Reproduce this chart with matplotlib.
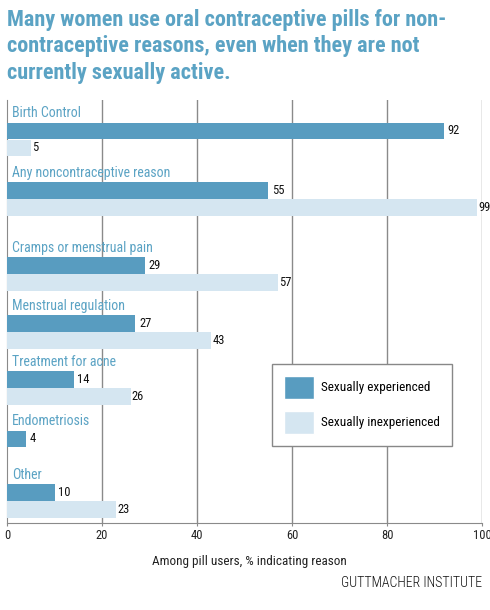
import matplotlib
matplotlib.use('Agg')
import matplotlib.pyplot as plt
import numpy as np
from matplotlib.patches import Patch

### DATA
categories = ['Birth Control', 'Any noncontraceptive reason', 'Cramps or menstrual pain',
              'Menstrual regulation', 'Treatment for acne', 'Endometriosis', 'Other']
experienced = [92, 55, 29, 27, 14, 4, 10]
inexperienced = [5, 99, 57, 43, 26, None, 23]
# slot of each category along the y axis (extra gap after the second group)
slots = [0, 1.03, 2.32, 3.32, 4.29, 5.31, 6.23]
x_ticks = [0, 20, 40, 60, 80, 100]

title = ('Many women use oral contraceptive pills for non-\n'
         'contraceptive reasons, even when they are not\n'
         'currently sexually active.')

### STYLE
dark_blue = '#589cc0'
light_blue = '#d5e6f1'
label_blue = '#5ba3c4'
grid_gray = '#8a8a8a'
narrow = ['Roboto Condensed', 'DejaVu Sans']

W, H = 490, 610
fig = plt.figure(figsize=(W / 100, H / 100), dpi=100)
ax_left, ax_right, ax_top, ax_bot = 7, 482, 100, 523
ax = fig.add_axes((ax_left / W, 1 - ax_bot / H, (ax_right - ax_left) / W, (ax_bot - ax_top) / H))

px = 58.0  # pixels per slot
bar_h = 16.5 / px
gap = 17.0 / px

for pos, name, v1, v2 in zip(slots, categories, experienced, inexperienced):
    y1 = pos + bar_h / 2
    ax.barh(y1, v1, height=bar_h, color=dark_blue, zorder=3)
    ax.text(v1 + 0.8, y1, str(v1), va='center', ha='left', fontsize=9,
            family=narrow, color='#111111', zorder=4)
    if v2 is not None:
        y2 = pos + gap + bar_h / 2
        ax.barh(y2, v2, height=bar_h, color=light_blue, zorder=3)
        ax.text(v2 + 0.3, y2, str(v2), va='center', ha='left', fontsize=9,
                family=narrow, color='#111111', zorder=4)
    ax.text(1.1, pos - 0.04, name, va='bottom', ha='left', fontsize=10,
            family=narrow, color=label_blue, zorder=4)

ax.set_xlim(0, 100)
ax.set_ylim(slots[-1] + (523 - 484) / px, -(122.7 - 100) / px)

ax.set_xticks(x_ticks)
ax.set_xticklabels([str(t) for t in x_ticks], family=narrow, fontsize=9, color='#222222')
ax.tick_params(axis='x', length=2, color=grid_gray, pad=2)
ax.set_yticks([])
for t in x_ticks[1:]:
    ax.axvline(t, color=grid_gray, linewidth=1, zorder=1)

for s in ['top', 'right']:
    ax.spines[s].set_visible(False)
ax.spines['left'].set_color(grid_gray)
ax.spines['bottom'].set_color(grid_gray)

ax.set_xlabel('Among pill users, % indicating reason', family=narrow, fontsize=9.5,
              color='#222222')
ax.xaxis.set_label_coords((249.5 - 7) / 475, -(555 - 523) / 423)

handles = [Patch(facecolor=dark_blue, edgecolor='white', label='Sexually experienced'),
           Patch(facecolor=light_blue, edgecolor='white', label='Sexually inexperienced')]
leg = ax.legend(handles=handles, loc='upper left', bbox_to_anchor=((272 - 7) / 475, 1 - (364 - 100) / 423),
                frameon=True, fancybox=False, framealpha=1, edgecolor='#888888',
                prop={'family': narrow, 'size': 9.5}, handlelength=2.3, handleheight=2.3,
                labelspacing=0.9, borderpad=0.9, handletextpad=0.5, borderaxespad=0)
leg.get_frame().set_linewidth(1)
leg.set_zorder(5)

fig.text(7 / W, 1 - 9 / H, title, ha='left', va='top', fontsize=16, fontweight='bold',
         family=narrow, color=label_blue, linespacing=1.26)
fig.text(482 / W, 1 - 583 / H, 'GUTTMACHER INSTITUTE', ha='right', va='center',
         fontsize=10, fontweight='light', family=narrow, color='#111111')

fig.savefig('out.png', dpi=100)
